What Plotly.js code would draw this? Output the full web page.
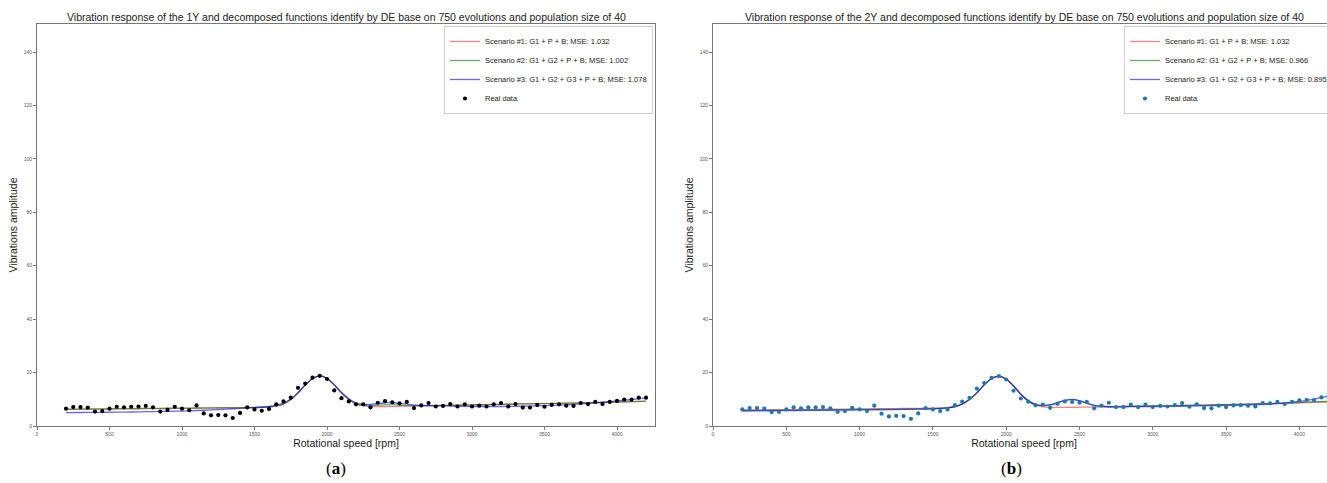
<!DOCTYPE html>
<html>
<head>
<meta charset="utf-8">
<script src="https://cdn.plot.ly/plotly-3.0.1.min.js"></script>
<style>
html,body{margin:0;padding:0;overflow:hidden;background:#fff;}
#chart{width:1336px;height:483px;}
</style>
</head>
<body>
<div id="chart"></div>
<script>
// ---------- data ----------
const realX = [200,250,300,350,400,450,500,550,600,650,700,750,800,850,900,950,1000,1050,1100,1150,1200,1250,1300,1350,1400,1450,1500,1550,1600,1650,1700,1750,1800,1850,1900,1950,2000,2050,2100,2150,2200,2250,2300,2350,2400,2450,2500,2550,2600,2650,2700,2750,2800,2850,2900,2950,3000,3050,3100,3150,3200,3250,3300,3350,3400,3450,3500,3550,3600,3650,3700,3750,3800,3850,3900,3950,4000,4050,4100,4150,4200];

const real1Y = [6.5,7.1,7.1,6.9,5.4,5.6,6.5,7.2,7.0,7.2,7.3,7.5,7.0,5.4,6.0,7.2,6.5,5.9,7.7,4.7,4.0,4.1,4.0,3.0,4.9,7.0,6.2,5.7,6.4,8.1,9.2,10.6,14.3,15.9,18.1,18.8,17.6,13.3,10.4,9.2,8.1,8.1,7.0,8.7,9.3,8.9,8.5,9.0,6.7,7.7,8.6,7.3,7.5,8.2,7.3,8.1,7.3,7.6,7.3,8.1,8.6,7.3,8.2,6.9,6.9,7.9,7.2,7.9,8.1,7.6,7.5,8.6,8.2,9.0,8.2,9.0,9.4,9.9,9.9,10.6,10.6];

const real2Y = [6.2,6.7,6.7,6.5,5.2,5.3,6.2,7.0,6.6,7.0,7.0,7.1,6.6,5.3,5.6,6.8,6.2,5.6,7.6,4.6,3.6,3.8,3.7,2.7,4.7,6.7,6.2,5.6,6.2,7.8,9.1,10.5,14.0,16.1,18.0,18.7,17.4,13.2,10.3,9.1,7.8,8.0,6.8,8.3,9.2,9.0,8.7,9.0,6.6,7.6,8.7,7.1,7.1,8.0,7.1,8.0,7.1,7.5,7.3,7.8,8.6,7.2,8.1,6.7,6.6,7.6,7.1,7.7,7.8,7.6,7.3,8.6,8.5,9.0,8.2,9.0,9.6,9.8,9.7,10.7,11.0];

const fitX = [200,300,400,500,600,700,800,900,1000,1100,1200,1300,1400,1500,1600,1650,1700,1750,1800,1850,1900,1950,2000,2050,2100,2150,2200,2250,2300,2350,2400,2450,2500,2550,2600,2700,2800,2900,3000,3100,3200,3300,3400,3500,3600,3700,3800,3900,4000,4100,4200];

// chart (a): 1Y
const a_s1 = [6.2,6.25,6.3,6.35,6.4,6.45,6.5,6.55,6.6,6.65,6.7,6.75,6.8,6.9,7.1,7.4,8.2,9.8,12.3,15.3,17.8,18.8,17.8,15.3,12.3,9.9,8.3,7.6,7.35,7.3,7.3,7.35,7.4,7.45,7.5,7.6,7.7,7.8,7.9,8.0,8.1,8.2,8.3,8.4,8.5,8.6,8.7,8.8,8.95,9.1,9.25];
const a_s2 = [6.3,6.35,6.4,6.45,6.5,6.55,6.6,6.65,6.7,6.75,6.8,6.85,6.9,7.0,7.2,7.5,8.3,9.9,12.4,15.3,17.8,18.8,17.8,15.3,12.3,10.0,8.3,7.7,7.6,7.8,8.0,8.0,7.8,7.65,7.6,7.65,7.7,7.8,7.9,8.0,8.1,8.2,8.3,8.4,8.5,8.6,8.7,8.85,9.0,9.15,9.3];
const a_s3 = [5.0,5.05,5.1,5.15,5.2,5.3,5.4,5.5,5.6,5.8,6.0,6.3,6.6,6.9,7.3,7.8,8.6,10.1,12.5,15.4,17.8,18.8,17.9,15.5,12.6,10.2,8.7,8.1,8.1,8.4,8.7,8.7,8.5,8.2,7.9,7.6,7.5,7.4,7.3,7.3,7.3,7.35,7.45,7.6,7.8,8.1,8.5,8.9,9.4,9.9,10.5];

// chart (b): 2Y
const b_s1 = [6.0,6.05,6.1,6.15,6.2,6.25,6.3,6.35,6.4,6.45,6.5,6.55,6.6,6.7,6.9,7.3,8.2,9.9,12.4,15.4,17.8,18.7,17.6,15.0,11.9,9.4,7.9,7.2,7.0,7.0,7.0,7.0,7.05,7.1,7.1,7.2,7.3,7.4,7.5,7.6,7.7,7.8,7.9,8.0,8.1,8.3,8.4,8.6,8.7,8.9,9.1];
const b_s2 = [5.8,5.85,5.9,5.95,6.0,6.05,6.1,6.15,6.2,6.25,6.3,6.35,6.4,6.5,6.8,7.2,8.2,9.9,12.4,15.4,17.8,18.6,17.6,15.0,11.9,9.5,8.0,7.6,7.8,8.6,9.5,9.9,9.4,8.5,7.7,7.2,7.3,7.4,7.5,7.6,7.7,7.8,7.9,8.0,8.1,8.3,8.4,8.6,8.8,9.0,9.2];
const b_s3 = [5.6,5.65,5.7,5.75,5.8,5.85,5.9,5.95,6.0,6.05,6.1,6.2,6.3,6.4,6.8,7.3,8.3,10.0,12.5,15.4,17.8,18.6,17.6,15.0,11.9,9.5,8.0,7.7,8.0,8.8,9.6,10.0,9.5,8.6,7.7,7.2,7.2,7.25,7.3,7.35,7.4,7.5,7.6,7.7,7.8,8.0,8.2,8.6,9.2,10.1,11.2];

const namesA = ["Scenario #1: G1 + P + B; MSE: 1.032","Scenario #2: G1 + G2 + P + B; MSE: 1.002","Scenario #3: G1 + G2 + G3 + P + B; MSE: 1.078","Real data"];
const namesB = ["Scenario #1: G1 + P + B; MSE: 1.032","Scenario #2: G1 + G2 + P + B; MSE: 0.966","Scenario #3: G1 + G2 + G3 + P + B; MSE: 0.895","Real data"];

const titleA = "Vibration response of the 1Y and decomposed functions identify by DE base on 750 evolutions and population size of 40";
const titleB = "Vibration response of the 2Y and decomposed functions identify by DE base on 750 evolutions and population size of 40";
const xTitle = "Rotational speed [rpm]";
const yTitle = "Vibrations amplitude";

// ---------- styling ----------
const W = 1336, H = 483;
const FONT = "Liberation Sans, Arial, sans-serif";
const cRed = "rgba(255,0,0,0.5)", cGreen = "rgba(0,128,0,0.6)", cBlue = "rgba(0,0,255,0.6)";

function lineTrace(y, name, color, xa, ya, leg){
  return {x: fitX, y: y, name: name, type: "scatter", mode: "lines",
    line: {color: color, width: 1.3, shape: "spline", smoothing: 0.6},
    xaxis: xa, yaxis: ya, legend: leg, hoverinfo: "x+y"};
}
function dotTrace(y, name, color, xa, ya, leg){
  return {x: realX, y: y, name: name, type: "scatter", mode: "markers",
    marker: {color: color, size: 4.2}, xaxis: xa, yaxis: ya, legend: leg};
}

const data = [
  lineTrace(a_s1, namesA[0], cRed, "x", "y", "legend"),
  lineTrace(a_s2, namesA[1], cGreen, "x", "y", "legend"),
  lineTrace(a_s3, namesA[2], cBlue, "x", "y", "legend"),
  dotTrace(real1Y, namesA[3], "#000000", "x", "y", "legend"),
  lineTrace(b_s1, namesB[0], cRed, "x2", "y2", "legend2"),
  lineTrace(b_s2, namesB[1], cGreen, "x2", "y2", "legend2"),
  lineTrace(b_s3, namesB[2], cBlue, "x2", "y2", "legend2"),
  dotTrace(real2Y, namesB[3], "#1f77b4", "x2", "y2", "legend2")
];

const yDom = [57/H, 459/H];
function xAxis(dom, range, anchor){
  return {domain: dom, range: range, anchor: anchor, tickmode: "linear", tick0: 0, dtick: 500,
    showline: true, linecolor: "#777", linewidth: 1, mirror: true,
    ticks: "outside", ticklen: 3, tickcolor: "#777", showgrid: false, zeroline: false,
    tickfont: {family: FONT, size: 5, color: "#555"},
    title: {text: xTitle, font: {family: FONT, size: 10.5, color: "#222"}, standoff: 3}};
}
function yAxis(anchor, mirror){
  return {domain: yDom, range: [0, 150.5], anchor: anchor, tickmode: "linear", tick0: 0, dtick: 20,
    showline: true, linecolor: "#777", linewidth: 1, mirror: mirror,
    ticks: "outside", ticklen: 3, tickcolor: "#777", showgrid: false, zeroline: false,
    tickfont: {family: FONT, size: 5, color: "#555"},
    title: {text: yTitle, font: {family: FONT, size: 10.5, color: "#222"}, standoff: 3}};
}
function legendAt(xRight){
  return {x: xRight, xref: "paper", xanchor: "right", y: (H-26)/H, yref: "paper", yanchor: "top",
    bgcolor: "rgba(255,255,255,0.9)", bordercolor: "#d0d0d0", borderwidth: 1,
    font: {family: FONT, size: 7.5, color: "#222"}, itemwidth: 30, tracegroupgap: 0};
}

const layout = {
  width: W, height: H, margin: {l: 0, r: 0, t: 0, b: 0},
  paper_bgcolor: "#fff", plot_bgcolor: "#fff", showlegend: true,
  font: {family: FONT},
  xaxis: xAxis([37/W, 655/W], [0, 4262], "y"),
  yaxis: yAxis("x", true),
  xaxis2: xAxis([713/W, 1335/W], [0, 4243], "y2"),
  yaxis2: yAxis("x2", true),
  legend: legendAt(653/W),
  legend2: legendAt(1333/W),
  annotations: [
    {text: titleA, xref: "paper", yref: "paper", x: 346/W, y: (H-17)/H, xanchor: "center", yanchor: "middle",
     showarrow: false, font: {family: FONT, size: 10.5, color: "#222"}},
    {text: titleB, xref: "paper", yref: "paper", x: 1024/W, y: (H-17)/H, xanchor: "center", yanchor: "middle",
     showarrow: false, font: {family: FONT, size: 10.5, color: "#222"}},
    {text: "(<b>a</b>)", xref: "paper", yref: "paper", x: 336/W, y: (H-468)/H, xanchor: "center", yanchor: "middle",
     showarrow: false, font: {family: "Liberation Serif, serif", size: 17, color: "#000"}},
    {text: "(<b>b</b>)", xref: "paper", yref: "paper", x: 1011/W, y: (H-468)/H, xanchor: "center", yanchor: "middle",
     showarrow: false, font: {family: "Liberation Serif, serif", size: 17, color: "#000"}}
  ]
};

Plotly.newPlot("chart", data, layout, {displayModeBar: false, staticPlot: true});
</script>
</body>
</html>
